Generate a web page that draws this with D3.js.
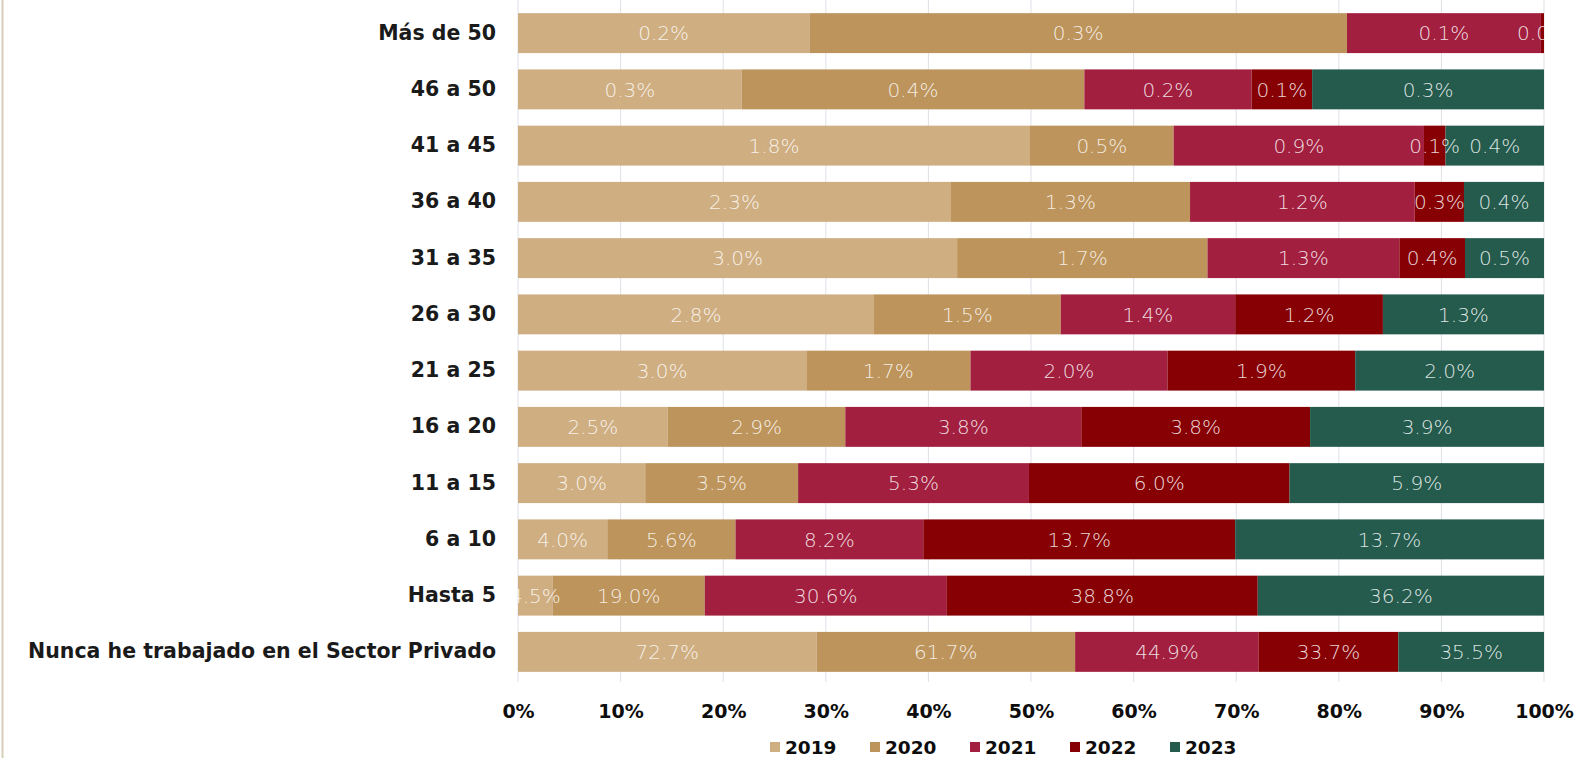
<!DOCTYPE html>
<html>
<head>
<meta charset="utf-8">
<script src="https://cdn.jsdelivr.net/npm/d3@7"></script>
<style>
  html, body { margin: 0; padding: 0; background: #fff; }
  svg { display: block; }
</style>
</head>
<body>
<svg id="chart" width="1578" height="758"></svg>
<script>
// ---- Data ----
const categories = [
  "Más de 50", "46 a 50", "41 a 45", "36 a 40", "31 a 35", "26 a 30",
  "21 a 25", "16 a 20", "11 a 15", "6 a 10", "Hasta 5",
  "Nunca he trabajado en el Sector Privado"
];
const years = ["2019", "2020", "2021", "2022", "2023"];

// Segment share of each row (percent of the 100% bar)
const share2019 = [28.4, 21.8, 49.9, 42.2, 42.8, 34.7, 28.1, 14.6, 12.4, 8.7, 3.4, 29.1];
const share2020 = [52.4, 33.4, 14.0, 23.3, 24.4, 18.2, 16.0, 17.3, 14.9, 12.5, 14.8, 25.2];
const share2021 = [18.9, 16.3, 24.4, 21.9, 18.7, 17.0, 19.2, 23.0, 22.5, 18.3, 23.6, 17.9];
const share2022 = [0.3, 5.9, 2.1, 4.8, 6.4, 14.4, 18.3, 22.3, 25.4, 30.4, 30.3, 13.6];
const share2023 = [0.0, 22.6, 9.6, 7.8, 7.7, 15.7, 18.4, 22.8, 24.8, 30.1, 27.9, 14.2];

// Data-label values (percent of each year's total)
const label2019 = [0.2, 0.3, 1.8, 2.3, 3.0, 2.8, 3.0, 2.5, 3.0, 4.0, 4.5, 72.7];
const label2020 = [0.3, 0.4, 0.5, 1.3, 1.7, 1.5, 1.7, 2.9, 3.5, 5.6, 19.0, 61.7];
const label2021 = [0.1, 0.2, 0.9, 1.2, 1.3, 1.4, 2.0, 3.8, 5.3, 8.2, 30.6, 44.9];
const label2022 = [0.0, 0.1, 0.1, 0.3, 0.4, 1.2, 1.9, 3.8, 6.0, 13.7, 38.8, 33.7];
const label2023 = [null, 0.3, 0.4, 0.4, 0.5, 1.3, 2.0, 3.9, 5.9, 13.7, 36.2, 35.5];

const xTicks = [0, 10, 20, 30, 40, 50, 60, 70, 80, 90, 100];
const colors = ["#cfae82", "#bd945b", "#a21f3f", "#870004", "#245b4d"];

// ---- Build table ----
const shares = [share2019, share2020, share2021, share2022, share2023];
const labels = [label2019, label2020, label2021, label2022, label2023];
const rows = categories.map((c, i) => {
  const r = { category: c };
  years.forEach((y, k) => { r[y] = shares[k][i]; r["lbl" + y] = labels[k][i]; });
  return r;
});

const svg = d3.select("#chart");
svg.append("rect").attr("width", 1578).attr("height", 758).attr("fill", "#fff");
// thin frame line at left
svg.append("line").attr("x1", 2.5).attr("x2", 2.5).attr("y1", 0).attr("y2", 758)
  .attr("stroke", "#d8cdb9").attr("stroke-width", 2);

const x = d3.scaleLinear().domain([0, 100]).range([518, 1544]);
const y = d3.scaleBand().domain(categories).range([5, 680])
  .paddingInner(0.29).paddingOuter(0.145);
const color = d3.scaleOrdinal().domain(years).range(colors);

// gridlines
svg.append("g").selectAll("line").data(xTicks).join("line")
  .attr("x1", d => x(d)).attr("x2", d => x(d))
  .attr("y1", 0).attr("y2", 682)
  .attr("stroke", "#dde1e7").attr("stroke-width", 1);

const stacked = d3.stack().keys(years)(rows);

const layers = svg.append("g").selectAll("g").data(stacked).join("g")
  .attr("fill", d => color(d.key));
layers.selectAll("rect").data(d => d).join("rect")
  .attr("x", d => x(d[0]))
  .attr("width", d => Math.max(0, x(d[1]) - x(d[0])))
  .attr("y", d => y(d.data.category))
  .attr("height", y.bandwidth());

// data labels
const lblG = svg.append("g");
stacked.forEach(layer => {
  layer.forEach(d => {
    const v = d.data["lbl" + layer.key];
    if (v === null || v === undefined) return;
    lblG.append("text")
      .attr("x", x((d[0] + d[1]) / 2))
      .attr("y", y(d.data.category) + y.bandwidth() / 2)
      .attr("dy", "0.36em")
      .attr("text-anchor", "middle")
      .attr("font-family", "'DejaVu Sans', sans-serif")
      .attr("font-size", 20)
      .attr("font-weight", 300)
      .attr("fill", "#ffffff")
      .attr("fill-opacity", 0.85)
      .text(v.toFixed(1) + "%");
  });
});

// x axis
const xAxis = svg.append("g").attr("transform", "translate(0,704)")
  .call(d3.axisBottom(x).tickValues(xTicks).tickFormat(d => d + "%").tickSize(0).tickPadding(0));
xAxis.select(".domain").remove();
xAxis.selectAll("text")
  .attr("font-family", "'DejaVu Sans', sans-serif")
  .attr("font-size", 19).attr("font-weight", "bold").attr("fill", "#0d0d0d");

// y axis
const yAxis = svg.append("g").attr("transform", "translate(518,0)")
  .call(d3.axisLeft(y).tickSize(0).tickPadding(22));
yAxis.select(".domain").remove();
yAxis.selectAll("text")
  .attr("font-family", "'DejaVu Sans', sans-serif")
  .attr("font-size", 20.5).attr("font-weight", "bold").attr("fill", "#1a1a1a");

// legend
const legend = svg.append("g").selectAll("g").data(years).join("g")
  .attr("transform", (d, i) => `translate(${770 + i * 100},742)`);
legend.append("rect").attr("width", 10).attr("height", 10).attr("fill", d => color(d));
legend.append("text").attr("x", 15).attr("y", 5).attr("dy", "0.36em")
  .attr("font-family", "'DejaVu Sans', sans-serif")
  .attr("font-size", 18.5).attr("font-weight", "bold").attr("fill", "#0d0d0d")
  .text(d => d);
</script>
</body>
</html>
